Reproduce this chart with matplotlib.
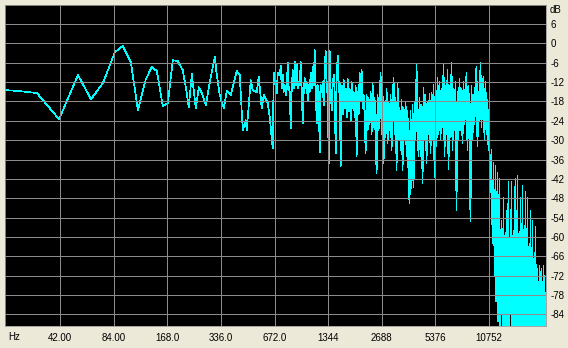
import numpy as np
import matplotlib
matplotlib.use('Agg')
import matplotlib.pyplot as plt

plt.rcParams['font.family'] = ['Liberation Sans', 'DejaVu Sans']

# frequency axis labels (Hz, octave spacing)
x_ticks = [42, 84, 168, 336, 672, 1344, 2688, 5376, 10752]
x_labels = ['42.00', '84.00', '168.0', '336.0', '672.0', '1344', '2688', '5376', '10752']
y_ticks = list(range(-84, 7, 6))

# sparse low end of the spectrum, read point by point
low_hz = [20.9, 25.1, 31.2, 41.5, 53.0, 62.7, 73.2, 85.4, 94.7, 105.0, 115.0, 127.4,
          137.7, 146.9, 158.7, 169.3, 180.6, 192.6, 205.4, 216.3, 222.0, 230.8, 243.1,
          252.6, 262.5, 276.5, 294.9, 310.5, 318.7, 331.3, 348.9, 362.6, 381.7, 412.5,
          428.8, 445.8, 463.5, 469.4, 494.3, 507.2, 534.1, 548.1, 569.8, 584.7, 615.6,
          631.7, 656.6, 665.1, 691.3, 700.4]
low_db = [-14.5, -14.8, -15.4, -23.5, -9.8, -17.3, -12.3, -2.7, -0.8, -5.8, -20.7, -11.1,
          -7.3, -8.6, -19.4, -18.5, -5.2, -5.5, -8.3, -15.4, -19.8, -9.5, -20.1,
          -13.6, -15.4, -19.1, -10.4, -4.2, -9.8, -16.0, -20.1, -14.8, -16.0, -8.6,
          -9.8, -26.9, -23.8, -26.9, -11.4, -14.5, -15.1, -10.4, -20.1, -16.0, -18.5,
          -22.9, -32.5, -9.2, -15.4, -9.2]

# dense part, one reading per screen column
mid_range_hz = (719, 3383)
mid_db = [-10, -7.0, -14, -9.8, -15, -13, -16, -14, -6.1, -13.9,
          -15, -26.3, -14, -8.3, -14, -5.8, -13, -6.7, -14, -12,
          -13, -5.8, -14, -24.7, -15, -10.8, -14, -12, -17.6, -13,
          -15, -9.2, -14, -7.3, -13, -2.1, -12.9, -24.7, -13, -15,
          -33.7, -13, -15, -12, -19.1, -8, -2.4, -15, -12, -37.1,
          -2.4, -14.5, -20.7, -13, -9.8, -15, -34.0, -10, -3.9, -15,
          -12, -38.1, -13, -22, -11.4, -20, -14, -23, -11, -21,
          -14, -24, -12, -20, -15, -23, -13, -35.0, -15, -22,
          -9, -18, -8.3, -20, -16, -22, -34.0, -16, -27, -17,
          -25, -15, -28, -12.5, -26, -17, -30, -40.3, -16, -27,
          -19, -9.2, -28, -15, -37.0, -18, -29, -14, -31, -18,
          -27, -16, -33, -19, -10.8, -28, -17, -39.3, -12.5, -30]

upper_range_hz = (3383, 10810)
upper_db = [-20.0, -33.0, -17.5, -39.3, -20.0, -30.0, -18.0, -35.0, -21.0, -43.3,
            -49.6, -21.0, -45.0, -19.0, -44.6, -18.5, -30.0, -6.7, -26.0, -35.0,
            -17.0, -35.0, -19.0, -43.3, -13.9, -30.0, -16.0, -37.0, -18.0, -28.0,
            -15.5, -34.0, -15.4, -30.0, -12.9, -41.5, -14.0, -32.0, -10.8, -28.0,
            -12.0, -30.0, -14.0, -26.0, -6.7, -35.0, -13.0, -28.0, -8.3, -39.0,
            -13.0, -29.0, -6.1, -33.0, -14.0, -27.0, -12.0, -51.7, -15.0, -30.0,
            -11.0, -27.0, -14.0, -31.0, -12.0, -25.0, -16.0, -9.2, -33.0, -13.0,
            -28.0, -55.0, -13.0, -30.0, -16.0, -25.0, -12.0, -7.3, -32.0, -15.0,
            -24.0, -6.1, -26.0, -14.0, -10.4, -30.0, -12.0, -28.0, -17.6, -33.0]

top_range_hz = (10810, 22300)
top_db = [-28, -46, -45, -40, -33, -56, -50, -62, -37, -58,
          -64, -72, -38, -80, -60, -66, -40, -86, -70, -62,
          -42, -88, -72, -66, -55, -84, -75, -88, -48, -78,
          -68, -88, -62, -80, -52, -90, -74, -70, -43, -88,
          -66, -84, -72, -78, -43, -88, -70, -64, -58, -88,
          -76, -52, -42, -88, -66, -84, -41, -90, -74, -60,
          -70, -88, -48, -86, -72, -90, -44, -82, -66, -90,
          -62, -86, -46, -90, -70, -84, -48, -90, -76, -64,
          -72, -90, -52, -84, -74, -90, -55, -88, -76, -90,
          -66, -86, -57, -90, -80, -72, -70, -90, -74, -86,
          -69, -90, -82, -72, -70, -90, -74, -86, -69, -90,
          -72, -88]


def spread(rng, vals):
    # one reading per column, evenly on the log axis
    return np.geomspace(rng[0], rng[1], len(vals), endpoint=False)


freq = np.concatenate([low_hz, spread(mid_range_hz, mid_db),
                       spread(upper_range_hz, upper_db), spread(top_range_hz, top_db)])
level = np.concatenate([low_db, mid_db, upper_db, top_db])

bg = '#ece9d8'
fig = plt.figure(figsize=(5.68, 3.48), dpi=100, facecolor=bg)
ax = fig.add_axes([5 / 568, 22 / 348, 541 / 568, 321 / 348])
ax.set_facecolor('black')

ax.plot(freq, level, color='#00ffff', lw=0.5, antialiased=False)

ax.set_xscale('log', base=2)
ax.set_xlim(20.64, 22448)
ax.set_ylim(-87.6, 11.9)
ax.minorticks_off()
ax.set_xticks(x_ticks)
ax.set_xticklabels(x_labels)
ax.set_yticks(y_ticks)
ax.set_yticklabels([str(v) for v in y_ticks])
ax.yaxis.tick_right()
ax.tick_params(axis='x', length=0, pad=5, labelsize=7, colors='black')
ax.tick_params(axis='y', length=0, pad=3, labelsize=7, colors='black')
ax.set_axisbelow(False)
ax.grid(True, color='#8c8c8c', lw=0.6, antialiased=False)
for s in ax.spines.values():
    s.set_color('#9a9a9a')
    s.set_linewidth(0.6)

fig.text(550 / 568, 1 - 10 / 348, 'dB', fontsize=7, ha='left', va='center')
fig.text(14 / 568, 1 - 337 / 348, 'Hz', fontsize=7, ha='center', va='center')

fig.savefig('out.png', dpi=100, facecolor=bg)
